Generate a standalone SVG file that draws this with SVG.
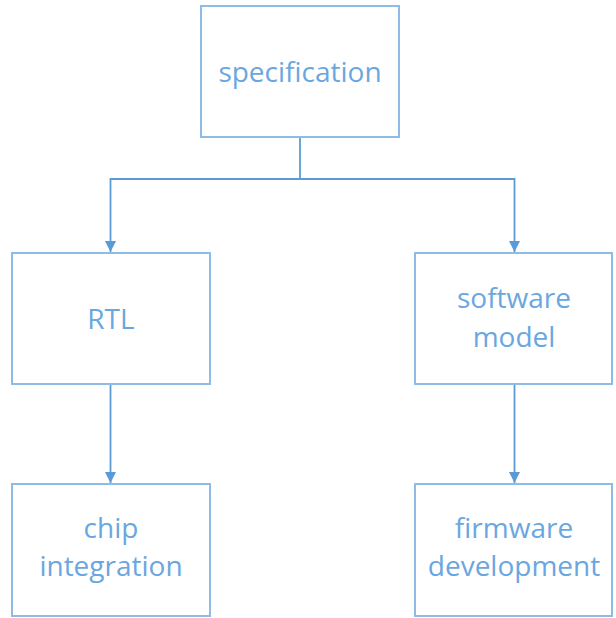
<svg xmlns="http://www.w3.org/2000/svg" width="616" height="618" viewBox="0 0 616 618">
<style>
.box{fill:#ffffff;stroke:#8EBCE6;stroke-width:2}
.t{font-family:"Open Sans","Liberation Sans",sans-serif;font-size:28px;fill:#6AA7E0;text-anchor:middle}
.c{fill:none;stroke:#5B9BD5;stroke-width:1.8}
</style>
<defs>
<marker id="ah" viewBox="0 0 10 10" refX="10" refY="5" markerWidth="12" markerHeight="11" markerUnits="userSpaceOnUse" orient="auto">
<path d="M0,0 L10,5 L0,10 z" fill="#5B9BD5"/>
</marker>
</defs>
<rect width="616" height="618" fill="#ffffff"/>
<g id="connectors">
<path class="c" d="M300,137 V179"/>
<path class="c" d="M300,179 H110.5 V252" marker-end="url(#ah)"/>
<path class="c" d="M300,179 H514.5 V252" marker-end="url(#ah)"/>
<path class="c" d="M110.5,384 V483" marker-end="url(#ah)"/>
<path class="c" d="M514.5,384 V483" marker-end="url(#ah)"/>
</g>
<g id="specification">
<rect class="box" x="201" y="6" width="198" height="131"/>
<text class="t" x="300" y="82">specification</text>
</g>
<g id="rtl">
<rect class="box" x="12" y="253" width="198" height="131"/>
<text class="t" x="111" y="329">RTL</text>
</g>
<g id="software-model">
<rect class="box" x="415" y="253" width="197" height="131"/>
<text class="t" x="514" y="308">software</text>
<text class="t" x="514" y="347">model</text>
</g>
<g id="chip-integration">
<rect class="box" x="12" y="484" width="198" height="132"/>
<text class="t" x="111" y="538">chip</text>
<text class="t" x="111" y="576">integration</text>
</g>
<g id="firmware-development">
<rect class="box" x="415" y="484" width="197" height="132"/>
<text class="t" x="514" y="538">firmware</text>
<text class="t" x="514" y="576">development</text>
</g>
</svg>
